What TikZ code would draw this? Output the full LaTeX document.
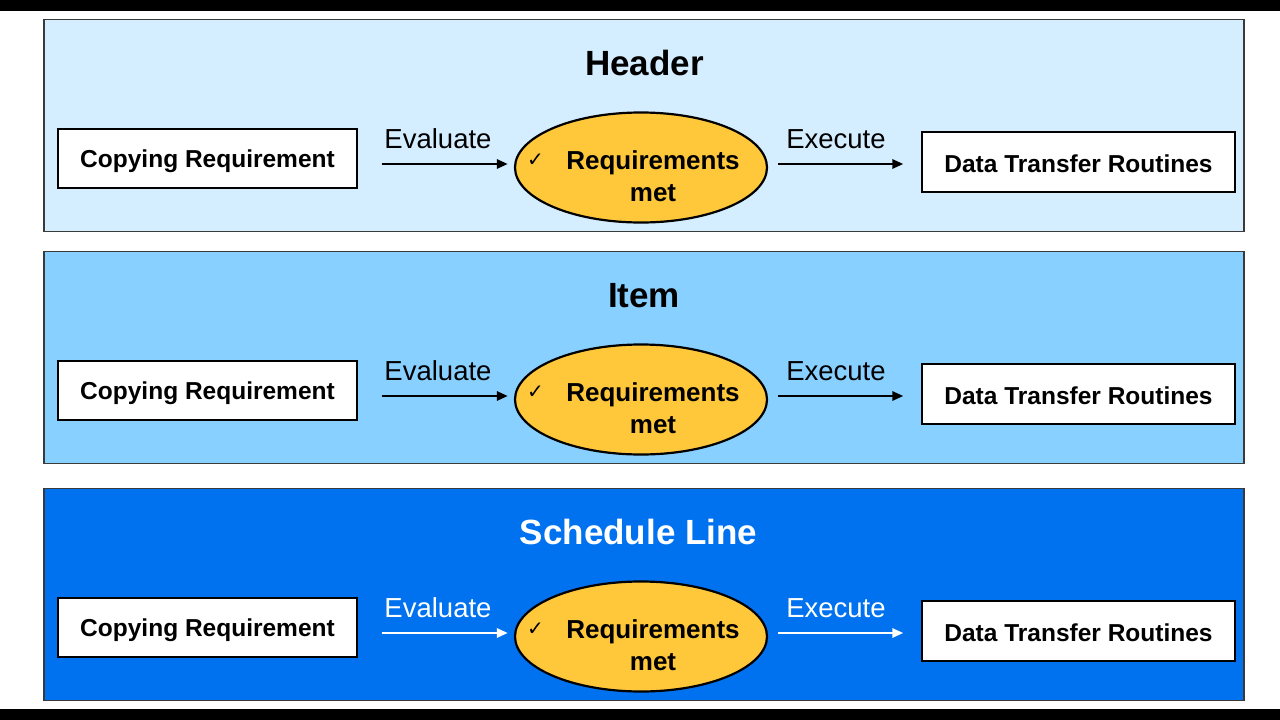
\documentclass[tikz,border=0pt]{standalone}
\usepackage{fontspec}
\setmainfont{Liberation Sans}
\newfontfamily\djv{DejaVu Sans}
\usetikzlibrary{shapes.geometric,arrows.meta}
\definecolor{pone}{HTML}{D4EEFF}
\definecolor{ptwo}{HTML}{88D0FF}
\definecolor{pthree}{HTML}{0072F0}
\definecolor{ellfill}{HTML}{FFC83A}
\definecolor{pborder}{HTML}{3A3A3A}
\tikzset{
  panel/.style={draw=pborder, line width=1.3pt, rectangle, minimum width=1200pt, minimum height=212pt, inner sep=0pt},
  whitebox/.style={draw=black, line width=1.2pt, fill=white, rectangle, inner sep=0pt, text depth=0pt,
    font=\bfseries\fontsize{24.5}{28}\selectfont},
  reqell/.style={draw=black, line width=2.2pt, fill=ellfill, ellipse, minimum width=252pt, minimum height=110pt, inner sep=0pt},
  reqtext/.style={anchor=base, font=\bfseries\fontsize{26}{30}\selectfont},
  lbltext/.style={anchor=base, font=\fontsize{27.5}{32}\selectfont},
  titletext/.style={anchor=base, font=\bfseries\fontsize{35}{40}\selectfont},
  arr/.style={line width=2.6pt, -{Triangle[length=11pt,width=9pt]}}
}
\begin{document}
\begin{tikzpicture}[x=1pt,y=-1pt]
\useasboundingbox (0,0) rectangle (1280,720);
\fill[white] (0,0) rectangle (1280,720);
\fill[black] (0,0) rectangle (1280,11);
\fill[black] (0,709) rectangle (1280,720);
\foreach \i/\oy/\pc/\ttl/\tx/\tc in {1/0/pone/Header/644.5/black,2/232/ptwo/Item/644/black,3/469/pthree/Schedule Line/638.5/white}{
  \node[panel, fill=\pc] (panel\i) at (644,125.5+\oy) {};
  \node[titletext, text=\tc] (title\i) at (\tx,75+\oy) {\ttl};
  \node[whitebox, minimum width=299pt, minimum height=59pt, text height=18pt] (copy\i) at (207.5,158.5+\oy) {Copying Requirement};
  \node[whitebox, minimum width=313pt, minimum height=60pt, text height=20pt] (dtr\i) at (1078.5,162+\oy) {Data Transfer Routines};
  \node[reqell] (ell\i) at (641,167.5+\oy) {};
  \node[reqtext] (req\i) at (653,169+\oy) {Requirements};
  \node[reqtext] (met\i) at (653,201+\oy) {met};
  \node[anchor=base, font=\djv\fontsize{20}{20}\selectfont] (chk\i) at (535.5,166+\oy) {✓};
  \coordinate (in\i) at ([yshift=3.5pt]ell\i.west);
  \coordinate (out\i) at ([yshift=3.5pt]ell\i.east);
  \draw[arr, draw=\tc, fill=\tc, shorten <=24pt, shorten >=6pt] (copy\i.east |- in\i) -- (in\i);
  \draw[arr, draw=\tc, fill=\tc, shorten <=10pt, shorten >=18pt] (out\i) -- (dtr\i.west |- out\i);
  \node[lbltext, text=\tc] (ev\i) at (438,148+\oy) {Evaluate};
  \node[lbltext, text=\tc] (ex\i) at (836,148+\oy) {Execute};
}
\end{tikzpicture}
\end{document}
